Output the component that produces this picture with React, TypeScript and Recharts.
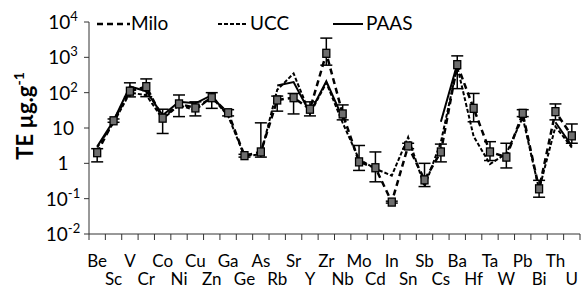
import { LineChart, Line, XAxis, YAxis, ErrorBar, Legend } from 'recharts'

// trace element concentrations, µg/g
const elements = ['Be', 'Sc', 'V', 'Cr', 'Co', 'Ni', 'Cu', 'Zn', 'Ga', 'Ge', 'As', 'Rb', 'Sr', 'Y', 'Zr', 'Nb', 'Mo', 'Cd', 'In', 'Sn', 'Sb', 'Cs', 'Ba', 'Hf', 'Ta', 'W', 'Pb', 'Bi', 'Th', 'U']
const milo = [2.0, 16, 110, 148, 19, 48, 37, 72, 27, 1.65, 2.1, 62, 72, 34, 1300, 25, 1.1, 0.75, 0.08, 3.1, 0.34, 2.1, 620, 36, 2.1, 1.5, 26, 0.19, 29, 6.0]
const miloLow = [1.1, 14.5, 76, 77, 7, 21, 22, 36, 22, 1.5, 1.5, 30, 25, 22, 600, 17, 0.63, 0.3, 0.075, 2.6, 0.22, 1.1, 130, 15, 1.2, 0.74, 21, 0.11, 17, 3.7]
const miloHigh = [2.6, 18, 190, 245, 34, 86, 55, 100, 33, 1.8, 14, 80, 95, 55, 3500, 45, 3.2, 2.1, 0.085, 3.7, 1.0, 3.5, 1100, 95, 4.1, 3.7, 33, 0.33, 48, 13]
const ucc = [2.8, 14, 100, 85, 18, 44, 32, 75, 22, 1.6, 1.8, 120, 350, 25, 190, 14, 1.3, 0.7, 0.45, 5.5, 0.22, 4, 550, 5.8, 0.95, 1.9, 20, 0.18, 11, 2.8]
const paas = [3.0, 16, 150, 110, 23, 55, 50, 85, 22, null, null, 160, 200, 27, 210, 19, null, null, null, null, null, 15, 650, null, null, null, 20, null, 14.6, 3.1]

const yTicks = [0.01, 0.1, 1, 10, 100, 1000, 10000]
const yTickLabels = [['10', '-2'], ['10', '-1'], ['1', ''], ['10', ''], ['10', '2'], ['10', '3'], ['10', '4']]

const data = elements.map((el, i) => ({
  el,
  pos: i + 0.5,
  milo: milo[i],
  miloErr: [milo[i] - miloLow[i], miloHigh[i] - milo[i]],
  ucc: ucc[i],
  paas: paas[i],
}))
const xTicks = elements.map((_, i) => i).concat(elements.length)

const FONT = "Lato, 'Liberation Sans', sans-serif"
const AXIS = '#333'
const BAND = 491 / elements.length

function ElementTick({ x, y, payload }: any) {
  const i = payload.value
  if (i >= elements.length) return null
  const top = i % 2 === 0
  return (
    <text x={x + BAND / 2} y={y + (top ? 27 : 45)} textAnchor="middle" fontSize={17} fontFamily={FONT} fill="#000">
      {elements[i]}
    </text>
  )
}

function PowTick({ y, payload }: any) {
  const idx = yTicks.indexOf(payload.value)
  if (idx < 0) return null
  const [base, exp] = yTickLabels[idx]
  return (
    <text x={63} y={y + 7} textAnchor="middle" fontSize={19} fontFamily={FONT} fill="#000">
      {base}
      {exp && <tspan dy={-8} fontSize={13}>{exp}</tspan>}
    </text>
  )
}

function YTitle() {
  return (
    <text x={33} y={116} transform="rotate(-90, 33, 116)" textAnchor="middle" fontSize={22} fontWeight="bold" fontFamily={FONT} fill="#000">
      TE µg.g<tspan dy={-9} fontSize={14}>-1</tspan>
    </text>
  )
}

function SquareDot({ cx, cy, index }: any) {
  if (cx == null || cy == null) return null
  return <rect key={index} x={cx - 3.5} y={cy - 4} width={7} height={8} fill="#6e6e6e" stroke="#000" strokeWidth={1.3} />
}

function LegendBox() {
  return (
    <svg width={582} height={40} style={{ display: 'block' }}>
      <line x1={97} x2={130} y1={24} y2={24} stroke="#000" strokeWidth={2.5} strokeDasharray="6 4" />
      <text x={131} y={30} fontSize={19} fontFamily={FONT}>Milo</text>
      <line x1={218} x2={248} y1={24} y2={24} stroke="#000" strokeWidth={2} strokeDasharray="4 2" />
      <text x={250} y={30} fontSize={19} fontFamily={FONT}>UCC</text>
      <line x1={333} x2={363} y1={24} y2={24} stroke="#000" strokeWidth={2} />
      <text x={366} y={30} fontSize={19} fontFamily={FONT}>PAAS</text>
    </svg>
  )
}

export default function App() {
  return (
    <div style={{ position: 'absolute', left: 0, top: 0 }}>
      <LineChart width={582} height={289} data={data} margin={{ top: 22, right: 2, left: 0, bottom: 0 }}>
        <XAxis
          type="number"
          dataKey="pos"
          domain={[0, elements.length]}
          ticks={xTicks}
          interval={0}
          tickSize={6}
          tickMargin={0}
          height={55}
          stroke={AXIS}
          tick={<ElementTick />}
        />
        <YAxis
          type="number"
          scale="log"
          domain={[0.01, 10000]}
          ticks={yTicks}
          interval={0}
          allowDataOverflow
          width={89}
          tickSize={5}
          stroke={AXIS}
          tick={<PowTick />}
          label={<YTitle />}
        />
        <Legend layout="horizontal" verticalAlign="middle" align="center" wrapperStyle={{ top: 0, left: 0, width: 582, height: 40 }} content={() => <LegendBox />} />
        <Line dataKey="paas" stroke="#000" strokeWidth={2} dot={false} activeDot={false} isAnimationActive={false} />
        <Line dataKey="ucc" stroke="#000" strokeWidth={2} strokeDasharray="4 2" dot={false} activeDot={false} isAnimationActive={false} />
        <Line dataKey="milo" stroke="#000" strokeWidth={2.5} strokeDasharray="6 4" dot={SquareDot} activeDot={false} isAnimationActive={false}>
          <ErrorBar dataKey="miloErr" direction="y" width={6} stroke="#000" strokeWidth={1.5} />
        </Line>
      </LineChart>
    </div>
  )
}
